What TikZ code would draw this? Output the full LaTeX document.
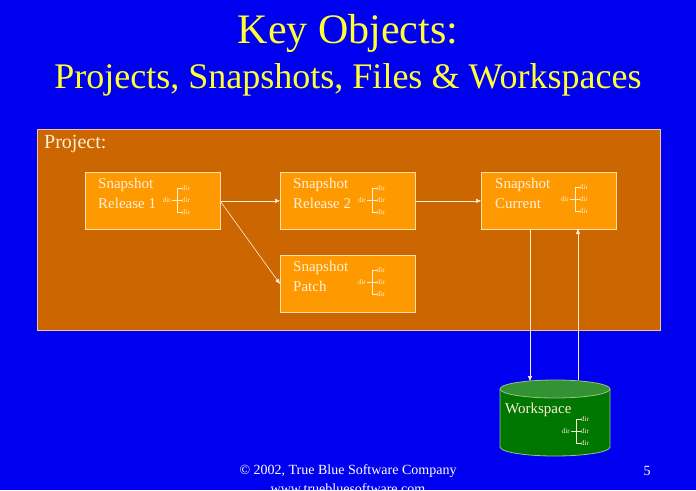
\documentclass[tikz,border=0pt]{standalone}
\usepackage{fontspec}
\setmainfont{Liberation Serif}
\usetikzlibrary{arrows.meta}
\definecolor{bg}{HTML}{0000F0}
\definecolor{proj}{HTML}{CC6600}
\definecolor{snap}{HTML}{FF9900}
\definecolor{cream}{HTML}{FFF0D8}
\definecolor{ttl}{HTML}{FFFF33}
\definecolor{ws}{HTML}{007700}
\tikzset{
  snapbox/.style={draw=cream!80!snap, fill=snap, line width=0.8pt, minimum width=135pt, minimum height=57pt, anchor=north west},
  snaptxt/.style={text=cream, font=\fontsize{15}{20}\selectfont, align=left, anchor=north west, inner sep=0pt},
  tiny/.style={text=cream, font=\fontsize{7}{7}\selectfont, inner sep=0pt},
  conn/.style={draw=cream, line width=0.6pt, -{Triangle[length=5pt,width=4pt]}},
  dirtree/.pic={
    \node[tiny, anchor=east] at (-1,0) {dir};
    \draw[cream, line width=0.5pt] (0,0)--(5,0) (5,-12)--(5,12) (5,-12)--(10,-12) (5,0)--(10,0) (5,12)--(10,12);
    \node[tiny, anchor=west] at (10,-12) {dir};
    \node[tiny, anchor=west] at (10,0) {dir};
    \node[tiny, anchor=west] at (10,12) {dir};
  }
}
\begin{document}
\begin{tikzpicture}[x=1pt,y=-1pt]
\fill[bg] (0,0) rectangle (696,490);
\useasboundingbox (0,0) rectangle (696,490);
\node[text=ttl, font=\fontsize{42}{42}\selectfont] (t1) at (348,33) {Key Objects:};
\node[text=ttl, font=\fontsize{36}{36}\selectfont] (t2) at (348,80) {Projects, Snapshots, Files \& Workspaces};
\node[draw=cream!70!proj, fill=proj, line width=0.8pt, minimum width=623pt, minimum height=201pt, anchor=north west] (proj) at (37,129) {};
\node[text=cream, font=\fontsize{20}{20}\selectfont, anchor=west, inner sep=0pt] (pl) at (44,144) {Project:};
\node[snapbox] (r1) at (85,172) {};
\node[snapbox] (r2) at (280,172) {};
\node[snapbox] (cur) at (481,172) {};
\node[snapbox] (pat) at (280,255) {};
\node[snaptxt] (r1t) at (98,178) {Snapshot\\Release 1};
\node[snaptxt] (r2t) at (293,178) {Snapshot\\Release 2};
\node[snaptxt] (curt) at (495,178) {Snapshot\\Current};
\node[snaptxt] (patt) at (293,261) {Snapshot\\Patch};
\pic at (172,200) {dirtree};
\pic at (367,200) {dirtree};
\pic at (570,199) {dirtree};
\pic at (367,282) {dirtree};
% cylinder
\draw[draw=cream!60!ws, fill=ws, line width=0.8pt] (500,389) -- (500,447) arc[start angle=180,end angle=0,x radius=55,y radius=9] -- (610,389);
\draw[draw=cream!60!ws, fill=ws!80!white, line width=0.8pt] (555,389) ellipse[x radius=55, y radius=9];
\node[text=cream, font=\fontsize{15}{15}\selectfont, anchor=west, inner sep=0pt] (wst) at (505,410) {Workspace};
\pic at (571,431) {dirtree};
\draw[conn] (r1.east) -- (r2.west);
\draw[conn] (r2.east) -- (cur.west);
\draw[conn] ([yshift=-1pt]r1.east) -- (pat.west);
\coordinate (c1) at (530,229);
\coordinate (w1) at (530,381);
\coordinate (w2) at (578,380);
\coordinate (c2) at (578,229);
\draw[conn] (c1) -- (w1);
\draw[conn] (w2) -- (c2);
\node[text=white, font=\fontsize{14}{14}\selectfont] (f1) at (348,471) {© 2002, True Blue Software Company};
\node[text=white, font=\fontsize{14}{14}\selectfont] (f2) at (348,489) {www.truebluesoftware.com};
\node[text=white, font=\fontsize{14}{14}\selectfont] (pg) at (647,471) {5};
\end{tikzpicture}
\end{document}
